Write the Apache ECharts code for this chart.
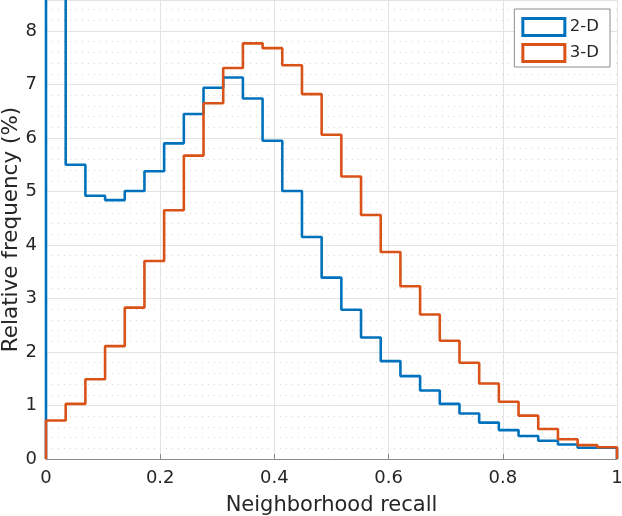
<!DOCTYPE html>
<html><head><meta charset="utf-8">
<script src="https://cdn.jsdelivr.net/npm/echarts@6/dist/echarts.min.js"></script>
<style>html,body{margin:0;padding:0;background:#fff}#c{width:622px;height:516px}</style>
</head><body><div id="c"></div>
<script>
// 29 equal-width bins on [0, 1]
var binCount = 29;
var series2D = [8.9, 5.50, 4.92, 4.84, 5.01, 5.38, 5.90, 6.45, 6.94, 7.13, 6.74, 5.95, 5.01, 4.15, 3.39, 2.79, 2.27, 1.83, 1.55, 1.28, 1.03, 0.85, 0.68, 0.54, 0.43, 0.34, 0.27, 0.21, 0.21];
var series3D = [0.72, 1.03, 1.49, 2.11, 2.83, 3.70, 4.65, 5.67, 6.65, 7.31, 7.77, 7.68, 7.36, 6.82, 6.06, 5.28, 4.56, 3.87, 3.23, 2.70, 2.21, 1.80, 1.41, 1.07, 0.81, 0.56, 0.37, 0.26, 0.22];
var seriesNames = ['2-D', '3-D'];
var xTicks = [0, 0.2, 0.4, 0.6, 0.8, 1];

function stairs(vals) {
  var pts = [[0, 0]];
  for (var i = 0; i < vals.length; i++) {
    var a = i / binCount, b = (i + 1) / binCount;
    pts.push([a, vals[i]]);
    pts.push([b, vals[i]]);
  }
  pts.push([1, 0]);
  return pts;
}
var colors = ['#0072BD', '#D95319'];
var font = 'DejaVu Sans';
var chart = echarts.init(document.getElementById('c'), null, {renderer: 'canvas'});
chart.setOption({
  animation: false,
  backgroundColor: '#fff',
  grid: {left: 46, right: 5, top: 0, bottom: 57, containLabel: false, outerBoundsMode: 'none'},
  legend: {
    right: 12, top: 9, orient: 'vertical',
    backgroundColor: '#fff', borderColor: '#8c8c8c', borderWidth: 1,
    padding: [8, 11, 4, 7], itemGap: 6, itemWidth: 42, itemHeight: 17,
    textStyle: {fontFamily: font, fontSize: 16.5, color: '#262626'},
    data: seriesNames.map(function (n, i) {
      return {name: n, icon: 'rect', itemStyle: {color: '#fff', borderColor: colors[i], borderWidth: 3}};
    })
  },
  xAxis: {
    type: 'value', min: 0, max: 1, interval: 0.2,
    name: 'Neighborhood recall', nameLocation: 'middle', nameGap: 36, nameMoveOverlap: false,
    nameTextStyle: {fontFamily: font, fontSize: 21, color: '#262626'},
    axisLine: {show: true, onZero: false, lineStyle: {color: '#8a8a8a', width: 1}},
    axisTick: {show: true, inside: true, length: 5, lineStyle: {color: '#8a8a8a'}},
    axisLabel: {fontFamily: font, fontSize: 18, color: '#262626', margin: 10,
      formatter: function (v) { return xTicks.indexOf(Math.round(v * 10) / 10) >= 0 ? String(Math.round(v * 10) / 10) : ''; }},
    splitLine: {show: true, lineStyle: {color: '#e3e3e3', width: 1}}
  },
  yAxis: {
    type: 'value', min: 0, max: 8.58, interval: 1,
    name: 'Relative frequency (%)', nameLocation: 'middle', nameGap: 24, nameMoveOverlap: false,
    nameTextStyle: {fontFamily: font, fontSize: 21.5, color: '#262626'},
    axisLine: {show: true, lineStyle: {color: '#8a8a8a', width: 1}},
    axisTick: {show: false},
    minorTick: {show: false, splitNumber: 5},
    minorSplitLine: {show: true, lineStyle: {color: '#d6d6d6', width: 1, type: [1, 5]}},
    axisLabel: {fontFamily: font, fontSize: 18, color: '#262626', margin: 9, showMaxLabel: false,
      formatter: function (v) { return Math.abs(v - Math.round(v)) < 1e-6 ? String(Math.round(v)) : ''; }},
    splitLine: {show: true, lineStyle: {color: '#e3e3e3', width: 1}}
  },
  series: [
    {name: seriesNames[0], type: 'line', data: stairs(series2D), showSymbol: false, symbol: 'none',
      lineStyle: {color: colors[0], width: 2.6}, itemStyle: {color: colors[0]}, clip: true, z: 3},
    {name: seriesNames[1], type: 'line', data: stairs(series3D), showSymbol: false, symbol: 'none',
      lineStyle: {color: colors[1], width: 2.6}, itemStyle: {color: colors[1]}, clip: true, z: 4}
  ]
});
</script></body></html>
